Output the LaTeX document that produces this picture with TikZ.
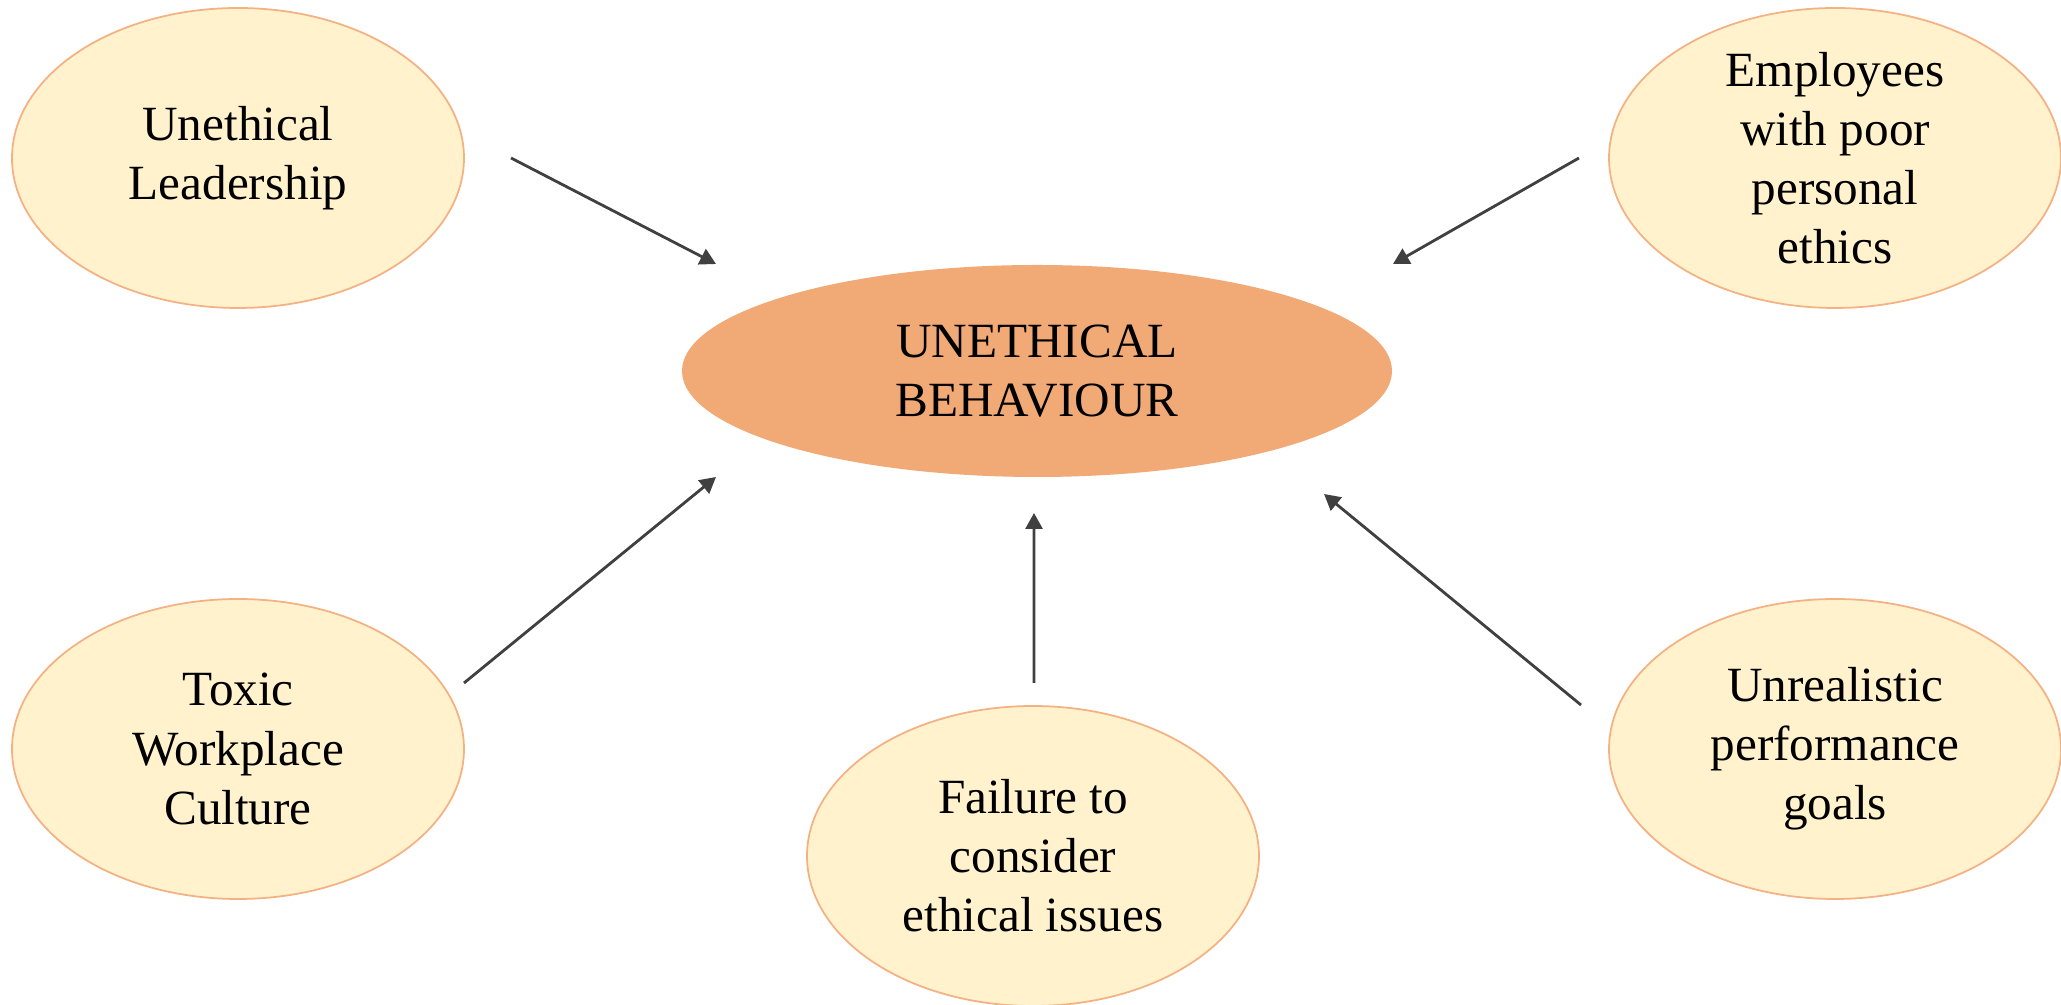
\documentclass[tikz,border=0pt]{standalone}
\usepackage{fontspec}
\setmainfont{Liberation Serif}
\usetikzlibrary{shapes.geometric,arrows.meta,calc}
\definecolor{causefill}{HTML}{FFF2CC}
\definecolor{causeline}{HTML}{F4B183}
\definecolor{corefill}{HTML}{F1A976}
\definecolor{arrowcol}{HTML}{404040}
\tikzset{
  cause/.style={ellipse, fill=causefill, draw=causeline, line width=0.5pt,
    minimum width=4.52cm, minimum height=3.0cm, inner sep=-6pt, align=center,
    font=\fontsize{14pt}{16.8pt}\selectfont},
  core/.style={ellipse, fill=corefill, draw=none,
    minimum width=7.1cm, minimum height=2.12cm, inner sep=0pt, align=center,
    font=\fontsize{14pt}{17pt}\selectfont},
  link/.style={draw=arrowcol, line width=0.8pt, -{Triangle[length=0.16cm,width=0.17cm]}}
}
\begin{document}
\begin{tikzpicture}
\useasboundingbox (0,0) rectangle (20.61,10.05);
\node[core] (core) at (10.37,6.34) {UNETHICAL\\BEHAVIOUR};
\node[cause] (lead) at (2.38,8.47) {Unethical\\Leadership};
\node[cause] (emp) at (18.35,8.47) {Employees\\with poor\\personal\\ethics};
\node[cause] (toxic) at (2.38,2.56) {Toxic\\Workplace\\Culture};
\node[cause] (goals) at (18.35,2.56) {Unrealistic\\performance\\goals};
\node[cause] (fail) at (10.33,1.49) {Failure to\\consider\\ethical issues};
\coordinate (s1) at ($(lead.center)+(2.73,0)$);
\coordinate (e1) at ($(core.center)+(-3.21,1.07)$);
\coordinate (s2) at ($(emp.center)+(-2.56,0)$);
\coordinate (e2) at ($(core.center)+(3.56,1.07)$);
\coordinate (s3) at ($(toxic.center)+(2.26,0.66)$);
\coordinate (e3) at ($(core.center)+(-3.21,-1.06)$);
\coordinate (s4) at ($(fail.center)+(0.01,1.73)$);
\coordinate (e4) at ($(core.center)+(-0.03,-1.42)$);
\coordinate (s5) at ($(goals.center)+(-2.54,0.44)$);
\coordinate (e5) at ($(core.center)+(2.87,-1.23)$);
\draw[link] (s1) -- (e1);
\draw[link] (s2) -- (e2);
\draw[link] (s3) -- (e3);
\draw[link] (s4) -- (e4);
\draw[link] (s5) -- (e5);
\end{tikzpicture}
\end{document}
